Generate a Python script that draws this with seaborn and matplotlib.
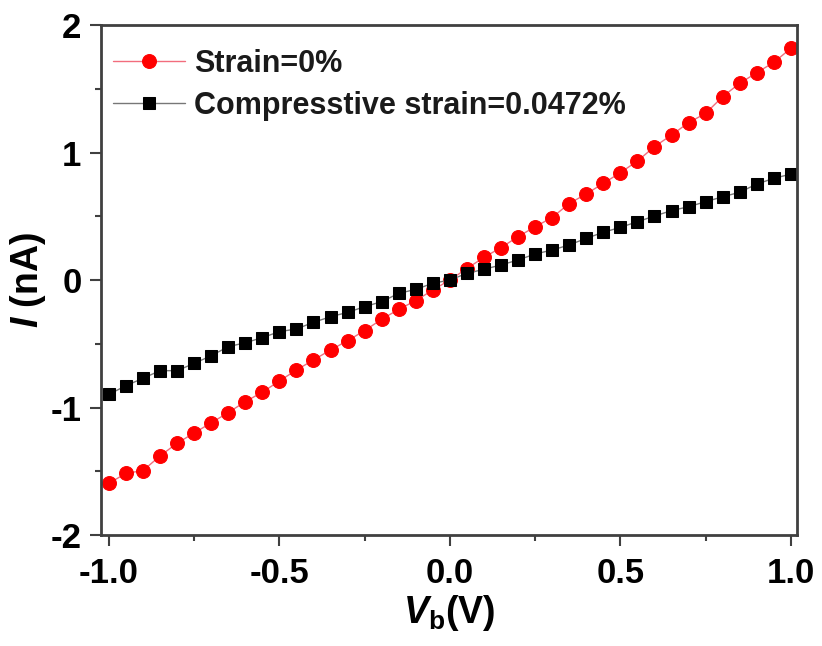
import numpy as np
import pandas as pd
import matplotlib
matplotlib.use("Agg")
import matplotlib.pyplot as plt
from matplotlib.ticker import MultipleLocator
import seaborn as sns

# Bias voltage (V)
v_bias = [-1.00, -0.95, -0.90, -0.85, -0.80, -0.75, -0.70, -0.65, -0.60, -0.55,
          -0.50, -0.45, -0.40, -0.35, -0.30, -0.25, -0.20, -0.15, -0.10, -0.05,
          0.00, 0.05, 0.10, 0.15, 0.20, 0.25, 0.30, 0.35, 0.40, 0.45,
          0.50, 0.55, 0.60, 0.65, 0.70, 0.75, 0.80, 0.85, 0.90, 0.95, 1.00]

# Current (nA), strain = 0%
i_strain0 = [-1.595, -1.516, -1.495, -1.380, -1.280, -1.200, -1.120, -1.040, -0.954, -0.880,
             -0.792, -0.706, -0.627, -0.549, -0.476, -0.397, -0.308, -0.230, -0.162, -0.078,
             0.000, 0.090, 0.178, 0.254, 0.340, 0.418, 0.490, 0.600, 0.675, 0.758,
             0.842, 0.933, 1.046, 1.137, 1.234, 1.307, 1.438, 1.543, 1.626, 1.707, 1.817]

# Current (nA), compressive strain = 0.0472%
i_comp = [-0.897, -0.829, -0.771, -0.711, -0.711, -0.654, -0.594, -0.523, -0.492, -0.452,
          -0.405, -0.384, -0.332, -0.288, -0.254, -0.209, -0.170, -0.105, -0.073, -0.026,
          0.000, 0.052, 0.084, 0.118, 0.157, 0.204, 0.235, 0.275, 0.327, 0.374,
          0.413, 0.457, 0.502, 0.544, 0.575, 0.614, 0.653, 0.688, 0.753, 0.797, 0.831]

labels = ["Strain=0%", "Compresstive strain=0.0472%"]

df = pd.DataFrame({"V": v_bias, "I0": i_strain0, "Ic": i_comp})

sns.set_style("ticks")
plt.rcParams["font.family"] = ["Liberation Sans", "DejaVu Sans"]
plt.rcParams["font.weight"] = "bold"
plt.rcParams["axes.unicode_minus"] = False
plt.rcParams["mathtext.fontset"] = "custom"
plt.rcParams["mathtext.it"] = "Liberation Sans:italic:bold"
plt.rcParams["mathtext.rm"] = "Liberation Sans:bold"
plt.rcParams["text.color"] = "black"
plt.rcParams["axes.labelcolor"] = "black"

fig = plt.figure(figsize=(8.22, 6.46), dpi=100)
ax = fig.add_axes([0.1229, 0.1718, 0.8467, 0.7895])

sns.lineplot(data=df, x="V", y="I0", ax=ax, color="#f26d7d", lw=1.0,
             marker="o", markersize=10, markerfacecolor="#ff0000",
             markeredgecolor="#ff0000", label=labels[0])
sns.lineplot(data=df, x="V", y="Ic", ax=ax, color="#777777", lw=1.0,
             marker="s", markersize=9, markerfacecolor="black",
             markeredgecolor="black", label=labels[1])

ax.set_xlim(-1.023, 1.018)
ax.set_ylim(-2, 2)
ax.xaxis.set_minor_locator(MultipleLocator(0.25))
ax.yaxis.set_minor_locator(MultipleLocator(0.5))
ax.set_yticks([-2, -1, 0, 1, 2])
ax.set_yticklabels(["-2", "-1", "0", "1", "2"])
ax.set_xticks([-1.0, -0.5, 0.0, 0.5, 1.0])
ax.set_xticklabels(["-1.0", "-0.5", "0.0", "0.5", "1.0"])

for s in ax.spines.values():
    s.set_visible(True)
    s.set_linewidth(2)
    s.set_color("#404040")

ax.tick_params(which="major", direction="out", length=8, width=1.5,
               color="#404040", labelcolor="black", labelsize=25, pad=6)
ax.tick_params(which="minor", direction="out", length=4, width=1.5, color="#404040")
ax.tick_params(axis="x", which="major", pad=8)
for t in ax.get_xticklabels() + ax.get_yticklabels():
    t.set_fontweight("bold")

ax.set_xlabel(r"$V_{\mathrm{b}}$(V)", fontsize=27, fontweight="bold", labelpad=2)
ax.set_ylabel(r"$I$ (nA)", fontsize=27, fontweight="bold", labelpad=2)

leg = ax.legend(loc="upper left", bbox_to_anchor=(0.017, 0.953), frameon=False,
                handlelength=2.35, handletextpad=0.3, labelspacing=0.4,
                borderpad=0, borderaxespad=0,
                prop={"weight": "bold", "size": 22})
for t in leg.get_texts():
    t.set_color("#1a1a1a")

fig.savefig("out.png", dpi=100)
